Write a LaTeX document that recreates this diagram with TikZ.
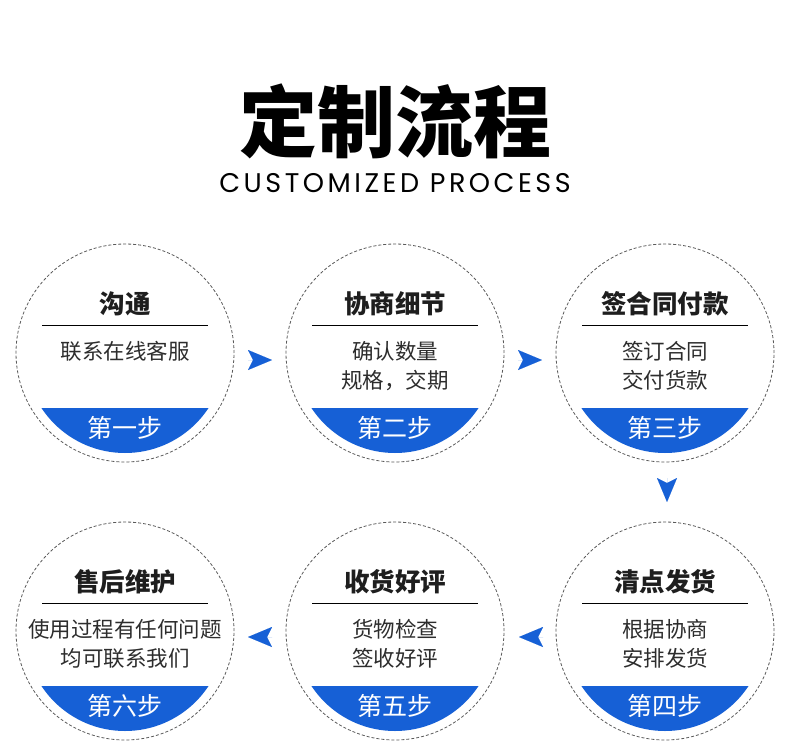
\documentclass[tikz,border=0pt]{standalone}
\usepackage{fontspec}
\usetikzlibrary{arrows.meta}
\newfontfamily\cjk{Noto Sans CJK SC}
\newfontfamily\cjkblack{Noto Sans CJK SC Black}
\newfontfamily\latinf{Poppins}[LetterSpace=13]
\definecolor{brandblue}{RGB}{22,96,214}
\definecolor{ringgray}{RGB}{90,90,90}
\definecolor{bodytext}{RGB}{45,45,45}
\definecolor{titletext}{RGB}{30,30,30}
\newcommand\StepC[6]{%
  \node[ring] (c#1) at (#2,#3) {};
  \begin{scope}
    \clip (#2-101,#3+55) rectangle (#2+101,#3+102);
    \fill[brandblue] (#2,#3) circle (100);
  \end{scope}
  \node[ttl] (t#1) at (#2,#3-49) {#4};
  \draw[rulel] (#2-83,#3-28) -- (#2+83,#3-28);
  \node[bodyt] (b#1) at (#2,#3-12) {#5};
  \node[steplbl] (s#1) at (#2,#3+75) {#6};
}
\begin{document}
\begin{tikzpicture}[x=1pt,y=-1pt,
  ring/.style={circle,draw=ringgray,line width=0.8pt,dash pattern=on 3pt off 2pt,minimum size=218pt,inner sep=0pt},
  ttl/.style={font=\cjk\bfseries\fontsize{25.5}{25.5}\selectfont,text=titletext,inner sep=0pt},
  rulel/.style={draw=black,line width=1pt},
  bodyt/.style={font=\cjk\fontsize{21.5}{29}\selectfont,text=bodytext,align=center,anchor=north,inner sep=0pt},
  steplbl/.style={font=\cjk\fontsize{25}{25}\selectfont,text=white,inner sep=0pt},
  flow/.style={draw=brandblue,line width=0.01pt,-{Stealth[length=24pt,width=20pt,inset=5pt]}}
]
\useasboundingbox (0,0) rectangle (790,755);
\fill[white] (0,0) rectangle (790,755);
\node[font=\cjkblack\fontsize{78}{78}\selectfont,inner sep=0pt] (title) at (395,121) {定制流程};
\node[font=\latinf\fontsize{27}{27}\selectfont,inner sep=0pt] (sub) at (395,183) {CUSTOMIZED PROCESS};

\StepC{1}{125}{353}{沟通}{联系在线客服}{第一步}
\StepC{2}{395}{353}{协商细节}{确认数量\\规格，交期}{第二步}
\StepC{3}{665}{353}{签合同付款}{签订合同\\交付货款}{第三步}
\StepC{4}{665}{631}{清点发货}{根据协商\\安排发货}{第四步}
\StepC{5}{395}{631}{收货好评}{货物检查\\签收好评}{第五步}
\StepC{6}{125}{631}{售后维护}{使用过程有任何问题\\均可联系我们}{第六步}

\coordinate (a1s) at (248,360); \coordinate (a1e) at (272,360);
\coordinate (a2s) at (518,360); \coordinate (a2e) at (542,360);
\coordinate (a3s) at (667,478); \coordinate (a3e) at (667,502);
\coordinate (a4s) at (543,637); \coordinate (a4e) at (519,637);
\coordinate (a5s) at (272,637); \coordinate (a5e) at (248,637);
\foreach \i in {1,...,5}{
  \draw[flow] (a\i s) -- (a\i e);
}
\end{tikzpicture}
\end{document}
